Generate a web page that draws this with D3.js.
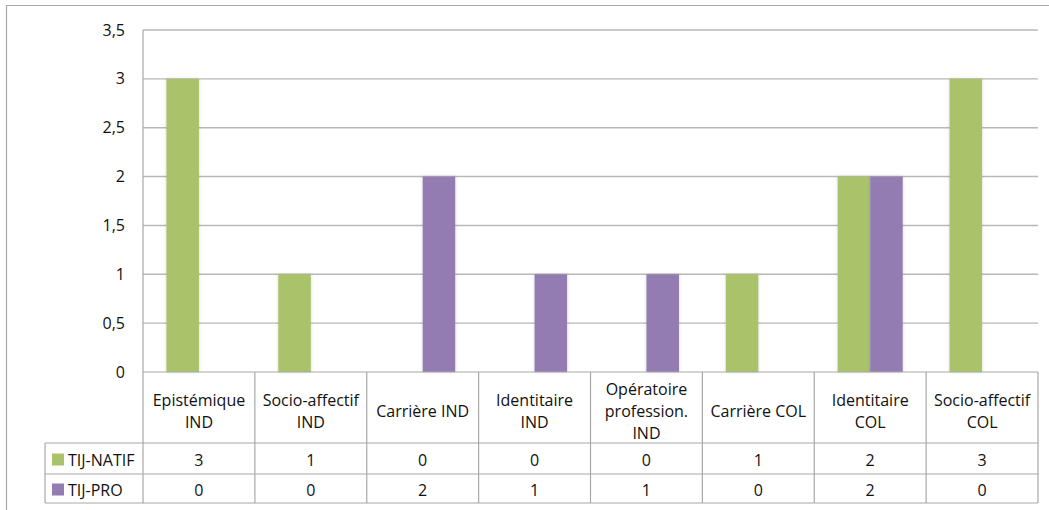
<!DOCTYPE html>
<html>
<head>
<meta charset="utf-8">
<script src="https://cdn.jsdelivr.net/npm/d3@7"></script>
<style>
  body { margin: 0; background: #fff; }
  text { font-family: "Open Sans", sans-serif; font-size: 16px; fill: #111; }
</style>
</head>
<body>
<div id="chart"></div>
<script>
var categories = [
    ["Epistémique", "IND"],
    ["Socio-affectif", "IND"],
    ["Carrière IND"],
    ["Identitaire", "IND"],
    ["Opératoire", "profession.", "IND"],
    ["Carrière COL"],
    ["Identitaire", "COL"],
    ["Socio-affectif", "COL"]
];
var seriesNames = ["TIJ-NATIF", "TIJ-PRO"];
var natif = [3, 1, 0, 0, 0, 1, 2, 3];
var pro = [0, 0, 2, 1, 1, 0, 2, 0];
var yTicks = [0, 0.5, 1, 1.5, 2, 2.5, 3, 3.5];
var colors = ["#aac36b", "#927cb1"];

var seriesValues = [natif, pro];
var catKeys = categories.map(function(c) { return c.join(" "); });

var width = 1049, height = 510;
var plotLeft = 143, plotRight = 1038, plotTop = 30, plotBottom = 372;
var headerBottom = 443, row1Bottom = 474, row2Bottom = 503, legendLeft = 45;

var svg = d3.select("#chart")
    .append("svg")
    .attr("width", width)
    .attr("height", height);

var defs = svg.append("defs");
var shadow = defs.append("filter").attr("id", "shadow")
    .attr("x", "-20%").attr("y", "-5%").attr("width", "140%").attr("height", "110%");
shadow.append("feDropShadow")
    .attr("dx", 0).attr("dy", 0).attr("stdDeviation", 1.5)
    .attr("flood-color", "#000").attr("flood-opacity", 0.18);

// outer frame (runs off right and bottom edges)
svg.append("path")
    .attr("d", "M6.5," + (height + 5) + "V5.5H" + (width + 5))
    .attr("fill", "none")
    .attr("stroke", "#aaa")
    .attr("stroke-width", 1.2);

var x = d3.scaleBand()
    .domain(catKeys)
    .range([plotLeft, plotRight])
    .padding(0);

var xInner = d3.scaleBand()
    .domain(seriesNames)
    .range([0, x.bandwidth()])
    .paddingInner(0)
    .paddingOuter(0.72);

var y = d3.scaleLinear()
    .domain([0, 3.5])
    .range([plotBottom, plotTop]);

var fr = d3.formatLocale({ decimal: ",", thousands: " ", grouping: [3], currency: ["", "€"] });
var fmt = fr.format("~g");

// gridlines
svg.append("g")
    .selectAll("line")
    .data(yTicks.slice(1))
    .enter()
    .append("line")
    .attr("x1", plotLeft)
    .attr("x2", plotRight)
    .attr("y1", function(d) { return y(d); })
    .attr("y2", function(d) { return y(d); })
    .attr("stroke", "#b8b8b8")
    .attr("stroke-width", 1.4);

// y axis
var yAxis = svg.append("g")
    .attr("transform", "translate(" + plotLeft + ",0)")
    .call(d3.axisLeft(y).tickValues(yTicks).tickFormat(fmt).tickSize(0).tickPadding(18));
yAxis.select(".domain").remove();
yAxis.selectAll("text")
    .style("font-family", "'Open Sans', sans-serif")
    .style("font-size", "16px")
    .attr("fill", "#111");

// bars
var groups = svg.append("g")
    .selectAll("g")
    .data(catKeys)
    .enter()
    .append("g")
    .attr("transform", function(d) { return "translate(" + x(d) + ",0)"; });

groups.selectAll("rect")
    .data(function(d, i) {
        return seriesNames.map(function(s, j) { return { series: s, value: seriesValues[j][i], idx: j }; });
    })
    .enter()
    .filter(function(d) { return d.value > 0; })
    .append("rect")
    .attr("x", function(d) { return xInner(d.series); })
    .attr("y", function(d) { return y(d.value); })
    .attr("width", xInner.bandwidth())
    .attr("height", function(d) { return y(0) - y(d.value); })
    .attr("fill", function(d) { return colors[d.idx]; })
    .attr("filter", "url(#shadow)");

// data table lines
var tableColor = "#a8a8a8";
var table = svg.append("g").attr("stroke", tableColor).attr("stroke-width", 1.2);

// left axis line through plot and header
table.append("line")
    .attr("x1", plotLeft).attr("x2", plotLeft)
    .attr("y1", plotTop).attr("y2", row2Bottom);

// horizontal lines
table.append("line").attr("x1", plotLeft).attr("x2", plotRight).attr("y1", plotBottom).attr("y2", plotBottom);
[headerBottom, row1Bottom, row2Bottom].forEach(function(yy) {
    table.append("line").attr("x1", legendLeft).attr("x2", plotRight).attr("y1", yy).attr("y2", yy);
});
table.append("line").attr("x1", legendLeft).attr("x2", legendLeft).attr("y1", headerBottom).attr("y2", row2Bottom);

// column separators
table.selectAll(".col")
    .data(catKeys)
    .enter()
    .append("line")
    .attr("class", "col")
    .attr("x1", function(d) { return x(d) + x.bandwidth(); })
    .attr("x2", function(d) { return x(d) + x.bandwidth(); })
    .attr("y1", plotBottom)
    .attr("y2", row2Bottom);

// category headers
var headers = svg.append("g")
    .selectAll("text")
    .data(categories)
    .enter()
    .append("text")
    .attr("text-anchor", "middle")
    .attr("x", function(d, i) { return x(catKeys[i]) + x.bandwidth() / 2; });

headers.selectAll("tspan")
    .data(function(d) { return d; })
    .enter()
    .append("tspan")
    .attr("x", function() { return d3.select(this.parentNode).attr("x"); })
    .attr("y", function(d, i, nodes) {
        var n = nodes.length;
        return 410.5 + (i - (n - 1) / 2) * 22 + 6;
    })
    .text(function(d) { return d; });

// value rows
var rowCenters = [(headerBottom + row1Bottom) / 2, (row1Bottom + row2Bottom) / 2];
seriesValues.forEach(function(vals, j) {
    svg.append("g")
        .selectAll("text")
        .data(vals)
        .enter()
        .append("text")
        .attr("text-anchor", "middle")
        .attr("x", function(d, i) { return x(catKeys[i]) + x.bandwidth() / 2; })
        .attr("y", rowCenters[j] + 7)
        .text(function(d) { return d; });

    svg.append("rect")
        .attr("x", 52)
        .attr("y", rowCenters[j] - 5)
        .attr("width", 12)
        .attr("height", 12)
        .attr("fill", colors[j]);

    svg.append("text")
        .attr("x", 68)
        .attr("y", rowCenters[j] + 7)
        .text(seriesNames[j]);
});
</script>
</body>
</html>
